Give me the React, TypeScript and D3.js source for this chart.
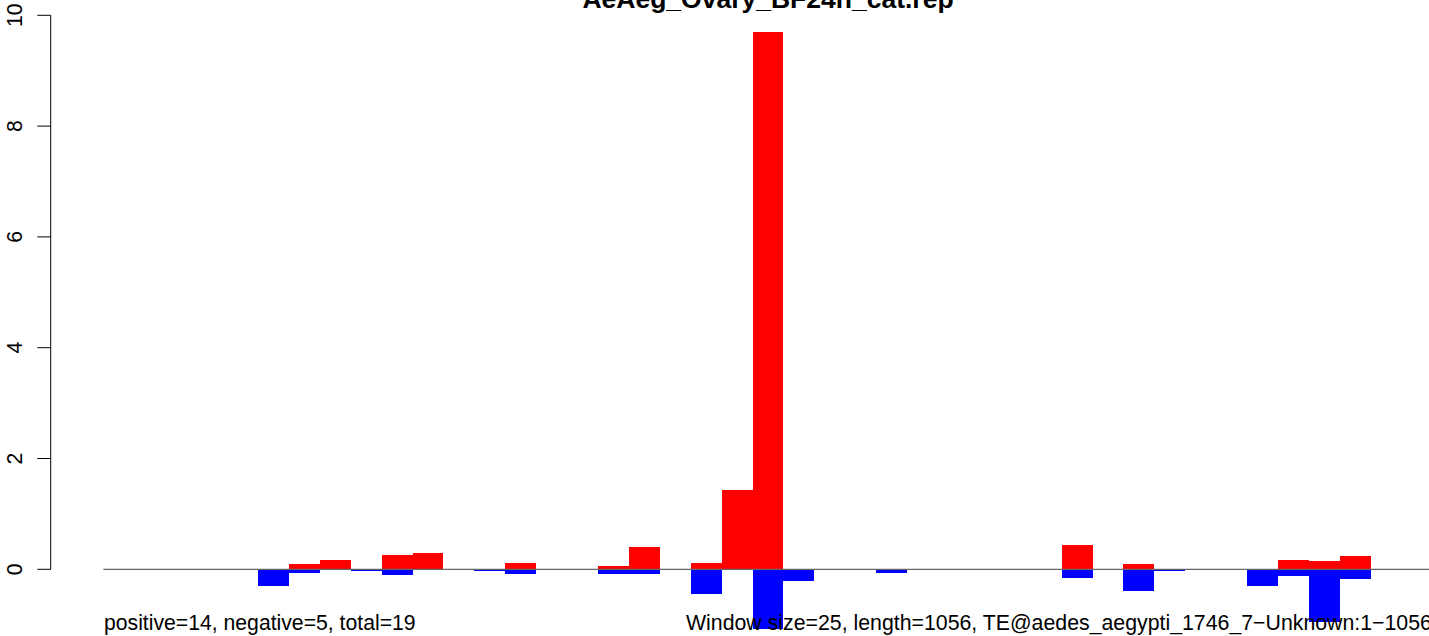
import React from "react";
import * as d3 from "d3";

const title = "AeAeg_Ovary_BF24h_cat.rep";
const seqLength = 1056;
const windowSize = 25;
const windowIndex = [5, 6, 7, 8, 9, 10, 12, 13, 16, 17, 19, 20, 21, 22, 25, 31, 33, 34, 37, 38, 39, 40];
const positiveValues = [0, 0.096, 0.17, 0, 0.26, 0.295, 0, 0.11, 0.06, 0.4, 0.11, 1.43, 9.7, 0, 0, 0.44, 0.096, 0, 0, 0.17, 0.15, 0.245];
const negativeValues = [0.3, 0.06, 0, 0.03, 0.11, 0, 0.025, 0.08, 0.08, 0.08, 0.44, 0, 1.08, 0.205, 0.06, 0.15, 0.4, 0.03, 0.31, 0.115, 0.945, 0.17];
const yTicks = [0, 2, 4, 6, 8, 10];
const leftNote = "positive=14, negative=5, total=19";
const rightNote = "Window size=25, length=1056, TE@aedes_aegypti_1746_7\u2212Unknown:1\u22121056";

const W = 1429;
const H = 636;
const font = "'Liberation Sans', Arial, Helvetica, sans-serif";

export default function App() {
  const x = d3.scaleLinear().domain([0, seqLength]).range([103.4, 103.4 + seqLength * (30.91 / windowSize)]);
  const y = d3.scaleLinear().domain([0, 10]).range([569.3, 15.3]);
  const bw = x(windowSize) - x(0);
  return (
    <svg width={W} height={H} style={{ position: "absolute", left: 0, top: 0, background: "#fff" }}>
      <rect x={0} y={0} width={W} height={H} fill="#fff" />
      <text x={768} y={7.5} textAnchor="middle" fontFamily={font} fontWeight="bold" fontSize={26.5} fill="#000">
        {title}
      </text>
      {windowIndex.map((w, i) => (
        <g key={w} shapeRendering="crispEdges">
          {positiveValues[i] > 0 && (
            <rect x={x(w * windowSize)} y={y(positiveValues[i])} width={bw} height={y(0) - y(positiveValues[i])} fill="#ff0000" />
          )}
          {negativeValues[i] > 0 && (
            <rect x={x(w * windowSize)} y={y(0)} width={bw} height={y(-negativeValues[i]) - y(0)} fill="#0000ff" />
          )}
        </g>
      ))}
      <line x1={103.4} x2={W} y1={y(0)} y2={y(0)} stroke="#666" strokeWidth={1.2} />
      <line x1={50.7} x2={50.7} y1={y(0)} y2={y(10)} stroke="#000" strokeWidth={1} />
      {yTicks.map((t) => (
        <g key={t}>
          <line x1={37.3} x2={50.7} y1={y(t)} y2={y(t)} stroke="#000" strokeWidth={1} />
          <text
            transform={`translate(22,${y(t)}) rotate(-90)`}
            textAnchor="middle"
            fontFamily={font}
            fontSize={21.2}
            fill="#000"
          >
            {t}
          </text>
        </g>
      ))}
      <text x={104} y={630} fontFamily={font} fontSize={21.2} fill="#000">{leftNote}</text>
      <text x={686} y={630} fontFamily={font} fontSize={21.3} fill="#000">{rightNote}</text>
    </svg>
  );
}
